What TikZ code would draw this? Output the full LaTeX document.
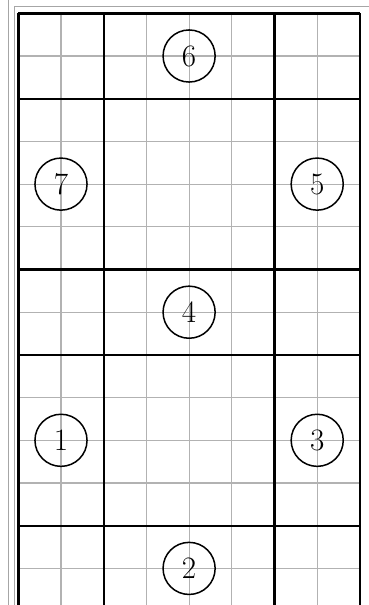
\documentclass[tikz,border=0pt]{standalone}
\begin{document}
\begin{tikzpicture}[num/.style={circle,draw,line width=1pt,minimum size=1.22cm,inner sep=0pt,font=\huge}]
\clip (-0.4286,0.3115) rectangle (8.213,-13.857);
% frame of the page
\draw[gray!70,line width=0.5pt] (-0.241,0.4) -- (-0.241,-14);
\draw[gray!70,line width=0.5pt] (-0.084,-14) -- (-0.084,0.171) -- (8.3,0.171);
% squares
\draw[gray!60,line width=0.7pt] (0,-14) grid (8,0);
\draw[line width=1.6pt] (0,0) -- (8,0);
\draw[line width=1.6pt] (0,-2) -- (8,-2);
\draw[line width=1.6pt] (0,-6) -- (8,-6);
\draw[line width=1.6pt] (0,-8) -- (8,-8);
\draw[line width=1.6pt] (0,-12) -- (8,-12);
\draw[line width=1.6pt] (0,0) -- (0,-14);
\draw[line width=1.6pt] (2,0) -- (2,-14);
\draw[line width=1.6pt] (6,0) -- (6,-14);
\draw[line width=1.6pt] (8,0) -- (8,-14);
% pieces
\node[num] (n6) at (4,-1) {6};
\node[num] (n7) at (1,-4) {7};
\node[num] (n5) at (7,-4) {5};
\node[num] (n4) at (4,-7) {4};
\node[num] (n1) at (1,-10) {1};
\node[num] (n3) at (7,-10) {3};
\node[num] (n2) at (4,-13) {2};
\end{tikzpicture}
\end{document}
